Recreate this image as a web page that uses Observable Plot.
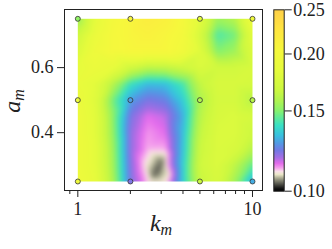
<!DOCTYPE html>
<html><head><meta charset="utf-8">
<script src="https://cdn.jsdelivr.net/npm/d3@7"></script>
<script src="https://cdn.jsdelivr.net/npm/@observablehq/plot@0.6"></script>
<style>
body{margin:0;background:#fff;}
#wrap{position:relative;width:332px;height:249px;overflow:hidden;font-family:"Liberation Serif",serif;color:#222;}
#wrap svg{position:absolute;top:0;}
.lbl{position:absolute;font-style:italic;font-size:24px;line-height:1;white-space:nowrap;}
.lbl sub{font-size:16px;vertical-align:-4px;}
</style></head><body><div id="wrap"></div>
<script>
// surface grid: k positions (log-uniform) and a positions
const kGrid = [1, 1.259, 1.585, 1.995, 2.512, 3.162, 3.981, 5.012, 6.31, 7.943, 10];
const aGrid = [0.25, 0.30, 0.35, 0.40, 0.45, 0.50, 0.55, 0.60, 0.65, 0.70, 0.75];
// rows follow aGrid (bottom to top), columns follow kGrid
const gridV = [
  [0.194,0.186,0.158,0.122,0.111,0.110,0.135,0.166,0.174,0.155,0.130],
  [0.192,0.184,0.156,0.121,0.109,0.108,0.135,0.169,0.176,0.162,0.145],
  [0.192,0.184,0.155,0.120,0.112,0.112,0.133,0.167,0.176,0.174,0.160],
  [0.192,0.182,0.153,0.120,0.113,0.115,0.132,0.164,0.176,0.176,0.168],
  [0.192,0.182,0.152,0.122,0.115,0.117,0.130,0.161,0.174,0.176,0.172],
  [0.190,0.180,0.148,0.128,0.122,0.124,0.135,0.158,0.172,0.172,0.160],
  [0.187,0.182,0.160,0.140,0.132,0.133,0.142,0.164,0.174,0.174,0.172],
  [0.184,0.190,0.186,0.170,0.162,0.163,0.168,0.176,0.170,0.170,0.174],
  [0.176,0.194,0.202,0.205,0.205,0.205,0.197,0.179,0.150,0.155,0.177],
  [0.168,0.190,0.202,0.207,0.211,0.207,0.200,0.173,0.143,0.148,0.182],
  [0.152,0.184,0.200,0.207,0.216,0.212,0.202,0.181,0.155,0.160,0.194]
];
// extra surface samples around the minimum
const extraK = [2.87, 2.72, 3.02, 2.70, 3.05, 2.60, 3.20, 2.45, 3.35, 2.61, 3.25];
const extraA = [0.288, 0.268, 0.310, 0.300, 0.276, 0.252, 0.335, 0.300, 0.270, 0.250, 0.251];
const extraV = [0.1035, 0.1045, 0.1045, 0.1070, 0.1070, 0.1095, 0.1095, 0.1095, 0.1095, 0.1100, 0.1100];
// simulated points
const ptK = [1, 2, 5, 10, 1, 2, 5, 10, 1, 2, 5, 10];
const ptA = [0.75, 0.75, 0.75, 0.75, 0.5, 0.5, 0.5, 0.5, 0.25, 0.25, 0.25, 0.25];
const ptV = [0.152, 0.207, 0.182, 0.194, 0.190, 0.128, 0.158, 0.160, 0.194, 0.122, 0.166, 0.130];
// ticks
const xMajor = [1, 10];
const xMinor = [0.9, 2, 3, 4, 5, 6, 7, 8, 9];
const yTicks = [0.4, 0.6];
const cbTicks = [0.10, 0.15, 0.20, 0.25];
// colormap stops (position in normalized log range) and colours
const cmapStops = [0, 0.015, 0.042, 0.07, 0.092, 0.109, 0.13, 0.153, 0.186, 0.224, 0.263, 0.307, 0.362, 0.406, 0.445, 0.5, 0.555, 0.665, 0.776, 0.886, 1];
const cmapColors = ["#000000","#121212","#5a5a50","#a4a48c","#ece8c8","#fae0ea","#f49cec","#e46cec","#a46ee4","#7478e4","#5498e4","#38c0e0","#38e0c4","#60ea98","#88f26c","#b0f450","#ccf840","#e6fb3c","#f6f83c","#ffe640","#ffd048"];

const cmap = d3.scaleLinear().domain(cmapStops).range(cmapColors).clamp(true);
const colorSpec = () => ({type: "log", domain: [0.1, 0.25], clamp: true, interpolate: t => cmap(t)});

const samples = [];
aGrid.forEach((a, j) => kGrid.forEach((k, i) => samples.push({k, a, v: gridV[j][i]})));
extraK.forEach((k, i) => samples.push({k, a: extraA[i], v: extraV[i]}));
const points = ptK.map((k, i) => ({k, a: ptA[i], v: ptV[i]}));

const wrap = document.getElementById("wrap");
const font = {fontFamily: "Liberation Serif, serif", fontSize: "18px", background: "transparent", color: "#222"};

const main = Plot.plot({
  width: 266, height: 249,
  marginLeft: 64, marginRight: 4, marginTop: 9, marginBottom: 59,
  x: {type: "log", domain: [0.839, 11.41]},
  y: {domain: [0.2223, 0.7786]},
  color: colorSpec(),
  style: font,
  marks: [
    Plot.raster(samples, {x: "k", y: "a", fill: "v", interpolate: "barycentric", blur: 2, x1: 1, x2: 10, y1: 0.25, y2: 0.75, pixelSize: 1}),
    Plot.frame({stroke: "#222", strokeWidth: 1}),
    Plot.axisX({ticks: xMajor, tickFormat: d => String(d), tickSize: 7, tickPadding: 5, label: null}),
    Plot.axisX({ticks: xMinor, tickFormat: () => "", tickSize: 4, label: null}),
    Plot.axisY({ticks: yTicks, tickFormat: d => d.toFixed(1), tickSize: 7, tickPadding: 4, label: null}),
    Plot.dot(points, {x: "k", y: "a", fill: "v", r: 2.5, stroke: "#333", strokeWidth: 0.8})
  ]
});
main.style.left = "0px";
wrap.appendChild(main);

const cb = Plot.plot({
  width: 70, height: 249,
  marginLeft: 11.3, marginRight: 48.3, marginTop: 9.3, marginBottom: 58.3,
  x: {domain: [0, 1], axis: null},
  y: {type: "log", domain: [0.1, 0.25]},
  color: colorSpec(),
  style: font,
  marks: [
    Plot.raster({fill: (x, y) => y, x1: 0, x2: 1, y1: 0.1, y2: 0.25, pixelSize: 1}),
    Plot.frame({stroke: "#222"}),
    Plot.axisY({anchor: "right", ticks: cbTicks, tickFormat: d => d.toFixed(2), tickSize: 7, tickPadding: 2, label: null})
  ]
});
cb.style.left = "262px";
wrap.appendChild(cb);

const ly = document.createElement("div");
ly.className = "lbl";
ly.innerHTML = "a<sub>m</sub>";
ly.style.left = "13px"; ly.style.top = "101px";
ly.style.transform = "translate(-50%,-50%) rotate(-90deg)";
wrap.appendChild(ly);

const lx = document.createElement("div");
lx.className = "lbl";
lx.innerHTML = "k<sub>m</sub>";
lx.style.left = "161px"; lx.style.top = "224px";
lx.style.transform = "translate(-50%,-50%)";
wrap.appendChild(lx);
</script>
</body></html>
